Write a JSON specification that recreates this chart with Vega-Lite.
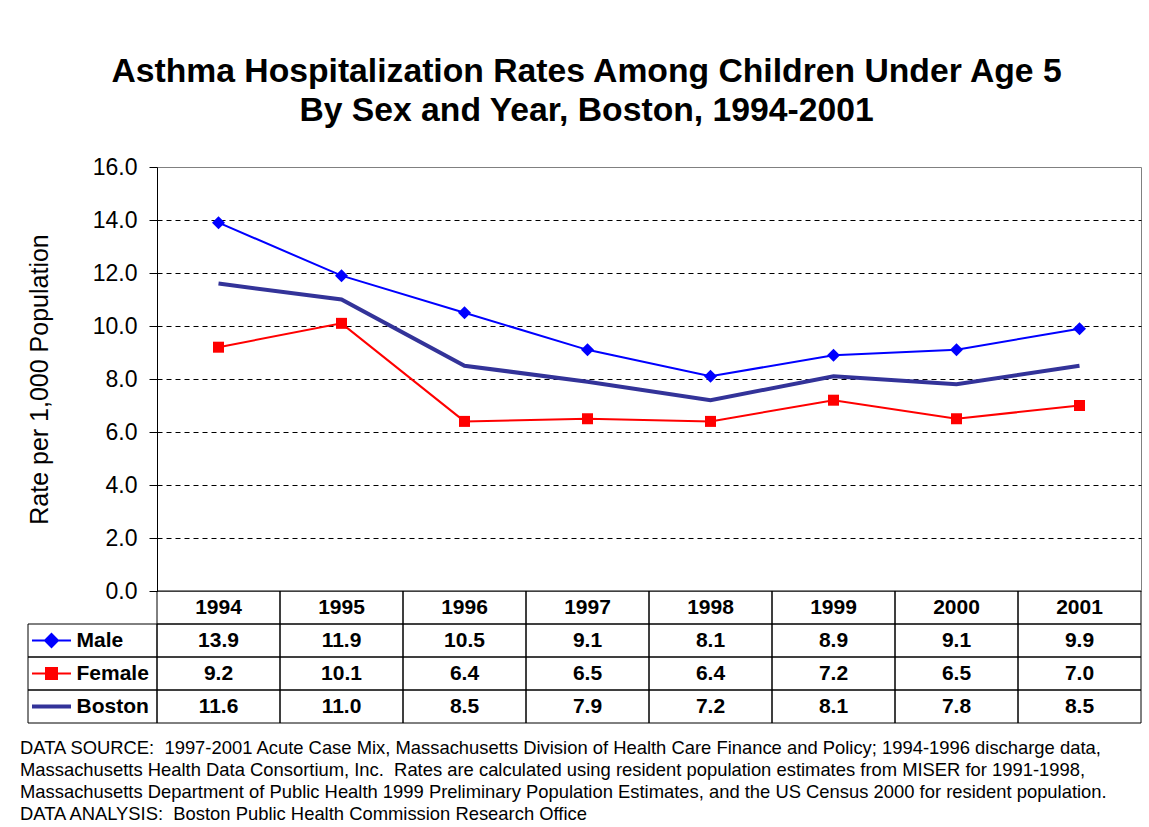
{
  "$schema": "https://vega.github.io/schema/vega-lite/v6.json",
  "padding": {"left": 20, "top": 54, "right": 4, "bottom": 4},
  "background": "white",
  "config": {"font": "Liberation Sans", "view": {"stroke": null}},
  "title": {
    "text": ["Asthma Hospitalization Rates Among Children Under Age 5", "By Sex and Year, Boston, 1994-2001"],
    "fontSize": 33.7, "fontWeight": "bold", "lineHeight": 39, "anchor": "start", "align": "center", "frame": "group",
    "dx": 558.5, "color": "#000000", "offset": 28, "font": "Liberation Sans"
  },
  "datasets": {
    "rates": [
      {"year": "1994", "series": "Male", "value": 13.9},
      {"year": "1995", "series": "Male", "value": 11.9},
      {"year": "1996", "series": "Male", "value": 10.5},
      {"year": "1997", "series": "Male", "value": 9.1},
      {"year": "1998", "series": "Male", "value": 8.1},
      {"year": "1999", "series": "Male", "value": 8.9},
      {"year": "2000", "series": "Male", "value": 9.1},
      {"year": "2001", "series": "Male", "value": 9.9},
      {"year": "1994", "series": "Female", "value": 9.2},
      {"year": "1995", "series": "Female", "value": 10.1},
      {"year": "1996", "series": "Female", "value": 6.4},
      {"year": "1997", "series": "Female", "value": 6.5},
      {"year": "1998", "series": "Female", "value": 6.4},
      {"year": "1999", "series": "Female", "value": 7.2},
      {"year": "2000", "series": "Female", "value": 6.5},
      {"year": "2001", "series": "Female", "value": 7.0},
      {"year": "1994", "series": "Boston", "value": 11.6},
      {"year": "1995", "series": "Boston", "value": 11.0},
      {"year": "1996", "series": "Boston", "value": 8.5},
      {"year": "1997", "series": "Boston", "value": 7.9},
      {"year": "1998", "series": "Boston", "value": 7.2},
      {"year": "1999", "series": "Boston", "value": 8.1},
      {"year": "2000", "series": "Boston", "value": 7.8},
      {"year": "2001", "series": "Boston", "value": 8.5}
    ],
    "series": [{"series": "Male"}, {"series": "Female"}, {"series": "Boston"}]
  },
  "columns": 2,
  "bounds": "flush",
  "align": "each",
  "spacing": 0,
  "concat": [
    {
      "width": 129, "height": 424,
      "data": {"name": "series"},
      "mark": {"type": "text", "text": ""},
      "encoding": {}
    },
    {
      "width": 984, "height": 424,
      "view": {"stroke": "#808080", "strokeWidth": 1},
      "data": {"name": "rates"},
      "encoding": {
        "x": {"field": "year", "type": "ordinal", "scale": {"type": "point", "padding": 0.5}, "axis": null},
        "y": {
          "field": "value", "type": "quantitative",
          "scale": {"domain": [0, 16], "nice": false, "zero": true},
          "axis": {
            "title": "Rate per 1,000 Population", "titleFontSize": 25, "titleFontWeight": "normal",
            "titleColor": "#000000", "titlePadding": 40, "titleFont": "Liberation Sans",
            "values": [0, 2, 4, 6, 8, 10, 12, 14, 16], "format": ".1f",
            "labelFontSize": 23, "labelColor": "#000000", "labelPadding": 12, "labelFont": "Liberation Sans",
            "tickSize": 8, "tickColor": "#000000", "domainColor": "#000000",
            "grid": true, "gridColor": "#000000", "gridDash": [5, 4], "gridWidth": 1,
            "gridOpacity": {"condition": {"test": "datum.value <= 0 || datum.value >= 16", "value": 0}, "value": 1}
          }
        }
      },
      "layer": [
        {"transform": [{"filter": "datum.series === 'Boston'"}], "mark": {"type": "line", "color": "#333399", "strokeWidth": 4}},
        {"transform": [{"filter": "datum.series === 'Female'"}], "mark": {"type": "line", "color": "#FF0000", "strokeWidth": 2}},
        {"transform": [{"filter": "datum.series === 'Female'"}], "mark": {"type": "point", "shape": "square", "filled": true, "color": "#FF0000", "size": 121, "opacity": 1}},
        {"transform": [{"filter": "datum.series === 'Male'"}], "mark": {"type": "line", "color": "#0000FF", "strokeWidth": 2}},
        {"transform": [{"filter": "datum.series === 'Male'"}], "mark": {"type": "point", "shape": "diamond", "filled": true, "color": "#0000FF", "size": 169, "opacity": 1}}
      ]
    },
    {
      "width": 129, "height": 132,
      "data": {"name": "series"},
      "title": {
        "text": [
          "DATA SOURCE:\u00a0 1997-2001 Acute Case Mix, Massachusetts Division of Health Care Finance and Policy; 1994-1996 discharge data,",
          "Massachusetts Health Data Consortium, Inc.\u00a0 Rates are calculated using resident population estimates from MISER for 1991-1998,",
          "Massachusetts Department of Public Health 1999 Preliminary Population Estimates, and the US Census 2000 for resident population.",
          "DATA ANALYSIS:\u00a0 Boston Public Health Commission Research Office"
        ],
        "orient": "bottom", "anchor": "start", "frame": "group", "fontSize": 18.4, "fontWeight": "normal",
        "lineHeight": 22, "offset": 15, "dx": -8, "color": "#000000", "font": "Liberation Sans"
      },
      "encoding": {
        "y": {"field": "series", "type": "nominal", "scale": {"type": "band", "domain": ["header", "Male", "Female", "Boston"], "paddingInner": 0, "paddingOuter": 0}, "axis": null}
      },
      "layer": [
        {"mark": {"type": "rect", "filled": false, "stroke": "#000000", "strokeWidth": 1}},
        {"transform": [{"filter": "datum.series === 'Male'"}], "mark": {"type": "point", "shape": "M-1,0L1,0M0,-0.333L0.333,0L0,0.333L-0.333,0Z", "size": 1521, "filled": true, "fill": "#0000FF", "stroke": "#0000FF", "strokeWidth": 2, "opacity": 1, "xOffset": -41}},
        {"transform": [{"filter": "datum.series === 'Female'"}], "mark": {"type": "point", "shape": "M-1,0L1,0M-0.282,-0.282L0.282,-0.282L0.282,0.282L-0.282,0.282Z", "size": 1521, "filled": true, "fill": "#FF0000", "stroke": "#FF0000", "strokeWidth": 2, "opacity": 1, "xOffset": -41}},
        {"transform": [{"filter": "datum.series === 'Boston'"}], "mark": {"type": "point", "shape": "M-1,0L1,0", "size": 1521, "filled": false, "stroke": "#333399", "strokeWidth": 4, "opacity": 1, "xOffset": -41}},
        {"mark": {"type": "text", "align": "left", "baseline": "middle", "dx": -16, "fontSize": 21, "fontWeight": "bold", "color": "#000000"}, "encoding": {"text": {"field": "series"}}}
      ]
    },
    {
      "width": 984, "height": 132,
      "data": {"name": "rates"},
      "encoding": {
        "x": {"field": "year", "type": "ordinal", "scale": {"type": "band", "paddingInner": 0, "paddingOuter": 0}, "axis": null},
        "y": {"field": "series", "type": "nominal", "scale": {"type": "band", "domain": ["header", "Male", "Female", "Boston"], "paddingInner": 0, "paddingOuter": 0}, "axis": null}
      },
      "layer": [
        {"mark": {"type": "rect", "filled": false, "stroke": "#000000", "strokeWidth": 1}},
        {"transform": [{"filter": "datum.series === 'Male'"}], "mark": {"type": "rect", "filled": false, "stroke": "#000000", "strokeWidth": 1}, "encoding": {"y": {"datum": "header", "type": "nominal"}}},
        {"mark": {"type": "text", "baseline": "middle", "fontSize": 21, "fontWeight": "bold", "color": "#000000"}, "encoding": {"text": {"field": "value", "type": "quantitative", "format": ".1f"}}},
        {"transform": [{"filter": "datum.series === 'Male'"}], "mark": {"type": "text", "baseline": "middle", "fontSize": 21, "fontWeight": "bold", "color": "#000000"}, "encoding": {"y": {"datum": "header", "type": "nominal"}, "text": {"field": "year"}}}
      ]
    }
  ]
}
